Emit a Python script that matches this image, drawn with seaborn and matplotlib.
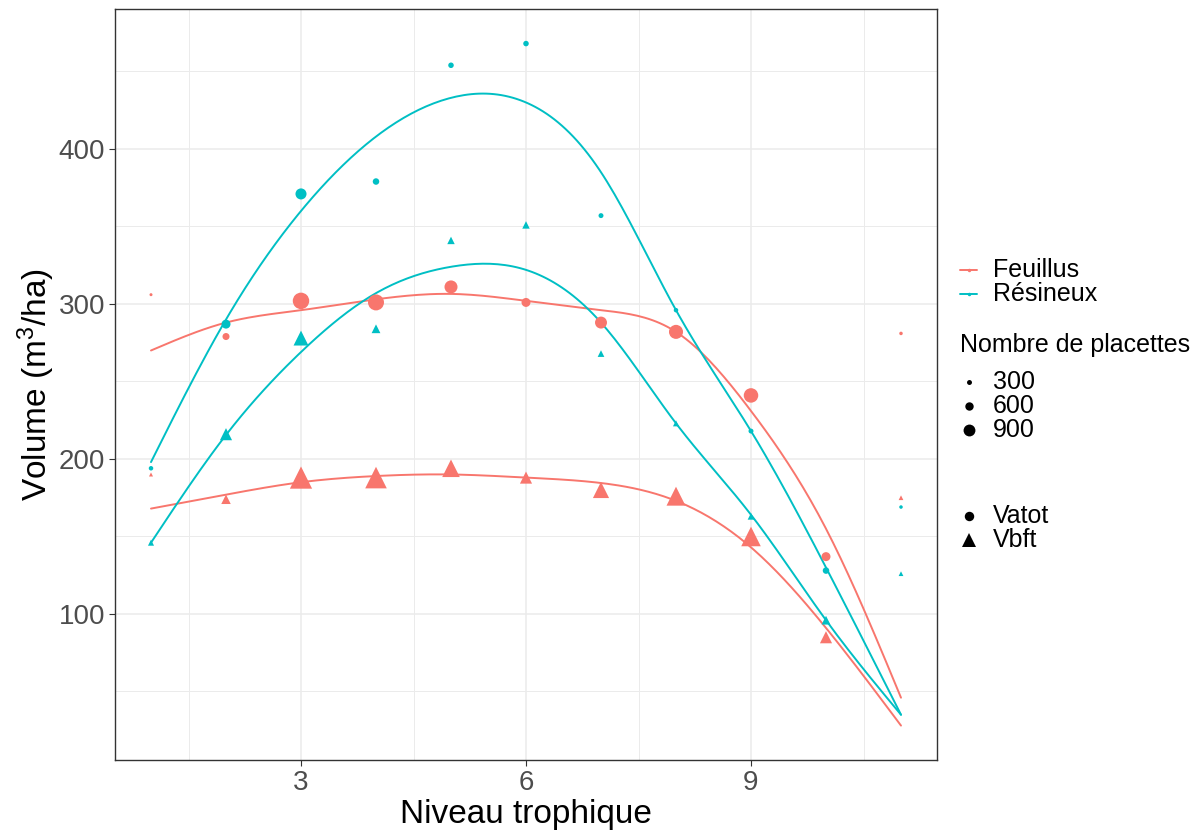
import numpy as np
import pandas as pd
import matplotlib
matplotlib.use("Agg")
import matplotlib.pyplot as plt
from matplotlib.ticker import MultipleLocator
import seaborn as sns

# ---------------- data ----------------
niveau = [1, 2, 3, 4, 5, 6, 7, 8, 9, 10, 11]

# observed means
feuillus_vatot = [306, 279, 302, 301, 311, 301, 288, 282, 241, 137, 281]
feuillus_vbft = [190, 174, 188, 188, 194, 188, 180, 176, 150, 85, 175]
resineux_vatot = [194, 287, 371, 379, 454, 468, 357, 296, 218, 128, 169]
resineux_vbft = [146, 216, 278, 284, 341, 351, 268, 223, 163, 96, 126]

# number of plots (point size)
feuillus_n = [130, 480, 1300, 1260, 1000, 650, 910, 1090, 1130, 650, 175]
resineux_n = [260, 650, 830, 435, 350, 350, 300, 260, 300, 435, 175]

# smoothed trend values at each niveau
lisse_feuillus_vatot = [270, 288, 296, 303, 306.5, 302, 296, 282, 231, 155, 46]
lisse_feuillus_vbft = [168, 177, 185, 189, 190, 188, 184.5, 173, 143, 91, 28]
lisse_resineux_vatot = [198, 290, 360, 408, 433, 430, 385, 296, 218, 130, 35]
lisse_resineux_vbft = [146, 215.5, 269, 307, 324, 322, 288, 223, 164, 96, 35]

groupes = ["Feuillus", "Résineux"]
couleurs = {"Feuillus": "#F8766D", "Résineux": "#00BFC4"}
size_breaks = [300, 600, 900]
shape_labels = ["Vatot", "Vbft"]

rows = []
for g, va, vb, nn in [("Feuillus", feuillus_vatot, feuillus_vbft, feuillus_n),
                      ("Résineux", resineux_vatot, resineux_vbft, resineux_n)]:
    for i, x in enumerate(niveau):
        rows.append(dict(groupe=g, niveau=x, variable="Vatot", volume=va[i], n=nn[i]))
        rows.append(dict(groupe=g, niveau=x, variable="Vbft", volume=vb[i], n=nn[i]))
df = pd.DataFrame(rows)

lisses = {("Feuillus", "Vatot"): lisse_feuillus_vatot,
          ("Feuillus", "Vbft"): lisse_feuillus_vbft,
          ("Résineux", "Vatot"): lisse_resineux_vatot,
          ("Résineux", "Vbft"): lisse_resineux_vbft}

# ---------------- helpers ----------------
DPI = 100
PX_PER_PT = DPI / 72.0


def diam_px(n):
    return 1.5 + 0.0115 * n


def area_pt2(n, scale=1.0):
    return (diam_px(n) * scale / PX_PER_PT) ** 2


def natural_spline(x, y, xs):
    x = np.asarray(x, float); y = np.asarray(y, float)
    n = len(x); h = np.diff(x)
    A = np.zeros((n, n)); b = np.zeros(n)
    A[0, 0] = 1; A[-1, -1] = 1
    for i in range(1, n - 1):
        A[i, i - 1] = h[i - 1]
        A[i, i] = 2 * (h[i - 1] + h[i])
        A[i, i + 1] = h[i]
        b[i] = 6 * ((y[i + 1] - y[i]) / h[i] - (y[i] - y[i - 1]) / h[i - 1])
    M = np.linalg.solve(A, b)
    idx = np.clip(np.searchsorted(x, xs) - 1, 0, n - 2)
    x0, x1 = x[idx], x[idx + 1]; hh = x1 - x0
    return (M[idx] * (x1 - xs) ** 3 / (6 * hh) + M[idx + 1] * (xs - x0) ** 3 / (6 * hh)
            + (y[idx] / hh - M[idx] * hh / 6) * (x1 - xs)
            + (y[idx + 1] / hh - M[idx + 1] * hh / 6) * (xs - x0))


# ---------------- figure ----------------
sns.set_theme(style="white")
plt.rcParams["font.family"] = ["Liberation Sans", "DejaVu Sans"]
plt.rcParams["mathtext.fontset"] = "custom"
plt.rcParams["mathtext.rm"] = "Liberation Sans"
plt.rcParams["mathtext.it"] = "Liberation Sans:italic"
plt.rcParams["mathtext.default"] = "regular"

fig = plt.figure(figsize=(12.02, 8.34), dpi=DPI)
ax = fig.add_axes([115 / 1202, 1 - 760 / 834, (937 - 115) / 1202, (760 - 9) / 834])

xs = np.linspace(1, 11, 200)
for g in groupes:
    sub = df[df.groupe == g]
    for var, marker, scale in [("Vatot", "o", 1.0), ("Vbft", "^", 1.35)]:
        s = sub[sub.variable == var]
        fit = natural_spline(niveau, lisses[(g, var)], xs)
        sns.lineplot(x=xs, y=fit, color=couleurs[g], lw=1.4, ax=ax,
                     estimator=None, sort=False, legend=False, zorder=2)
        sizes = {v: area_pt2(v, scale) for v in s.n.unique()}
        sns.scatterplot(data=s, x="niveau", y="volume", size="n", sizes=sizes,
                        color=couleurs[g], marker=marker, linewidth=0,
                        legend=False, ax=ax, zorder=3)

ax.set_xlim(0.52, 11.48)
ax.set_ylim(5.8, 490.3)
ax.set_xticks([3, 6, 9])
ax.set_yticks([100, 200, 300, 400])
ax.xaxis.set_minor_locator(MultipleLocator(1.5))
ax.yaxis.set_minor_locator(MultipleLocator(50))
ax.grid(True, which="major", color="#EBEBEB", lw=1.1)
ax.grid(True, which="minor", color="#EBEBEB", lw=0.7)
ax.set_axisbelow(True)
for sp in ax.spines.values():
    sp.set_color("#333333")
    sp.set_linewidth(1.0)
ax.tick_params(axis="both", which="major", length=4, width=0.8, color="#333333",
               labelsize=20, labelcolor="#4D4D4D", pad=3, bottom=True, left=True)
ax.tick_params(axis="both", which="minor", length=0)
ax.set_xlabel("Niveau trophique", fontsize=24, color="black", labelpad=2)
ax.set_ylabel(r"Volume (m$^{3}$/ha)", fontsize=24, color="black", labelpad=1)

# ---------------- legends (drawn in pixel coordinates) ----------------
lg = fig.add_axes([0, 0, 1, 1], facecolor="none")
lg.set_xlim(0, 1202)
lg.set_ylim(834, 0)
lg.axis("off")
FS = 18

for g, y in zip(groupes, [270, 294]):
    lg.plot([960, 977], [y, y], color=couleurs[g], lw=1.4)
    lg.plot([968.5], [y], ls="", marker="o", color=couleurs[g], markersize=2.5,
            markeredgewidth=0)
    lg.text(993, y, g, fontsize=FS, va="center", ha="left", color="black")

lg.text(960, 345, "Nombre de placettes", fontsize=FS, va="center", ha="left", color="black")
for v, y in zip(size_breaks, [382, 406, 430]):
    lg.plot([969], [y], ls="", marker="o", color="black",
            markersize=diam_px(v) / PX_PER_PT, markeredgewidth=0)
    lg.text(993, y, str(v), fontsize=FS, va="center", ha="left", color="black")

for lab, mk, msz, y in zip(shape_labels, ["o", "^"], [6.8, 9.5], [516, 540]):
    lg.plot([969], [y], ls="", marker=mk, color="black", markersize=msz,
            markeredgewidth=0)
    lg.text(993, y, lab, fontsize=FS, va="center", ha="left", color="black")

fig.savefig("out.png", dpi=DPI)
